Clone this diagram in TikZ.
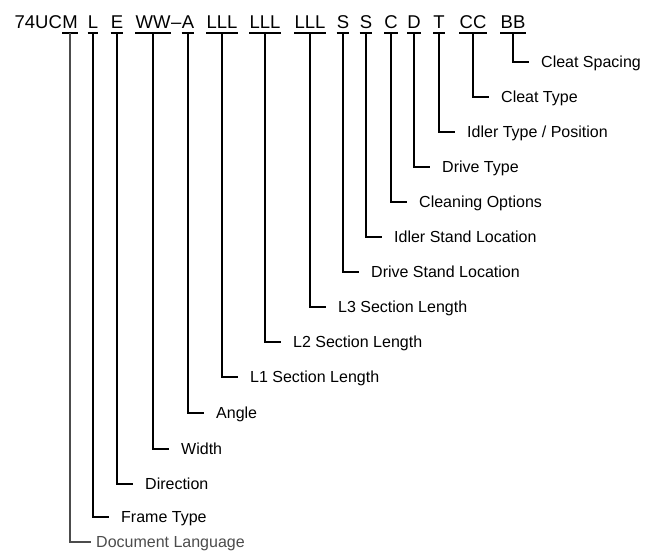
\documentclass[tikz,border=0pt]{standalone}
\usepackage{fontspec}
\setmainfont{Liberation Sans}
\usetikzlibrary{calc}
\begin{document}
\begin{tikzpicture}[x=1pt,y=-1pt,
  tok/.style={anchor=base,inner sep=0pt,font=\fontsize{18.5}{20}\selectfont},
  lab/.style={anchor=base west,inner sep=0pt,font=\fontsize{16}{18}\selectfont},
  doclab/.style={anchor=base west,inner sep=0pt,text=black!70,font=\fontsize{16}{18}\selectfont},
  uline/.style={line width=2pt},
  conn/.style={line width=2pt},
  docconn/.style={line width=1.2pt,black!70}]
\useasboundingbox (0,0) rectangle (660,552);
% top code tokens
\node[tok] (tM) at (70,28) {M};
\node[tok,anchor=base east] (tPre) at (tM.base west) {74UC};
\node[tok] (tL) at (93,28) {L};
\node[tok] (tE) at (117,28) {E};
\node[tok] (tW) at (153,28) {WW};
\node[tok] (tA) at (188,28) {A};
\node[tok] (tDash) at ($(tW.base east)!0.5!(tA.base west)$) {–};
\node[tok] (tL1) at (222,28) {LLL};
\node[tok] (tL2) at (265,28) {LLL};
\node[tok] (tL3) at (310,28) {LLL};
\node[tok] (tS1) at (343,28) {S};
\node[tok] (tS2) at (366,28) {S};
\node[tok] (tC) at (391,28) {C};
\node[tok] (tD) at (414,28) {D};
\node[tok] (tT) at (439,28) {T};
\node[tok] (tCC) at (473,28) {CC};
\node[tok] (tBB) at (513,28) {BB};
% underlines
\foreach \t in {tM,tL,tE,tW,tA,tL1,tL2,tL3,tS1,tS2,tC,tD,tT,tCC,tBB}{
  \draw[uline] (\t.west |- 0,32.5) -- (\t.east |- 0,32.5);
}
% line end coordinates and labels
\coordinate (eBB) at (529,62);
\node[lab] (lBB) at ($(eBB)+(12,5.7)$) {Cleat Spacing};
\coordinate (eCC) at (489,97);
\node[lab] (lCC) at ($(eCC)+(12,5.7)$) {Cleat Type};
\coordinate (eT) at (455,132);
\node[lab] (lT) at ($(eT)+(12,5.7)$) {Idler Type / Position};
\coordinate (eD) at (430,167);
\node[lab] (lD) at ($(eD)+(12,5.7)$) {Drive Type};
\coordinate (eC) at (407,202);
\node[lab] (lC) at ($(eC)+(12,5.7)$) {Cleaning Options};
\coordinate (eS2) at (382,237);
\node[lab] (lS2) at ($(eS2)+(12,5.7)$) {Idler Stand Location};
\coordinate (eS1) at (359,272);
\node[lab] (lS1) at ($(eS1)+(12,5.7)$) {Drive Stand Location};
\coordinate (eL3) at (326,307);
\node[lab] (lL3) at ($(eL3)+(12,5.7)$) {L3 Section Length};
\coordinate (eL2) at (281,342);
\node[lab] (lL2) at ($(eL2)+(12,5.7)$) {L2 Section Length};
\coordinate (eL1) at (238,377);
\node[lab] (lL1) at ($(eL1)+(12,5.7)$) {L1 Section Length};
\coordinate (eA) at (204,413);
\node[lab] (lA) at ($(eA)+(12,5.7)$) {Angle};
\coordinate (eW) at (169,449);
\node[lab] (lW) at ($(eW)+(12,5.7)$) {Width};
\coordinate (eE) at (133,484);
\node[lab] (lE) at ($(eE)+(12,5.7)$) {Direction};
\coordinate (eL) at (109,517);
\node[lab] (lL) at ($(eL)+(12,5.7)$) {Frame Type};
\coordinate (eM) at (91,542);
\node[doclab] (lM) at ($(eM)+(5,5.8)$) {Document Language};
% connectors
\foreach \t/\e in {tBB/eBB,tCC/eCC,tT/eT,tD/eD,tC/eC,tS2/eS2,tS1/eS1,tL3/eL3,tL2/eL2,tL1/eL1,tA/eA,tW/eW,tE/eE,tL/eL}{
  \draw[conn] (\t.center |- 0,32.5) |- (\e);
}
\draw[docconn] (tM.center |- 0,33) |- (eM);
\end{tikzpicture}
\end{document}
